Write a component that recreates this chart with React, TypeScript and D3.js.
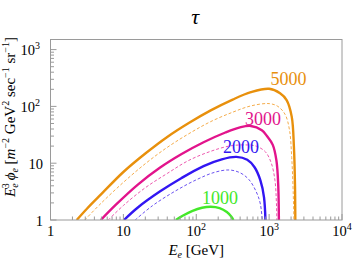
import * as d3 from "d3";
import React from "react";

// [E (GeV), E^3 phi]
const curve5000 = [
  [2.29, 1], [3.16, 1.58], [5.01, 2.88], [10, 7.0], [20, 14.8], [40, 29], [79, 51],
  [158, 85], [316, 132], [562, 178], [1000, 204], [1413, 170], [1738, 129], [2042, 66],
  [2188, 19.5], [2265, 4], [2291, 0.5],
];
const curve5000d = [
  [2.95, 1], [5, 2], [10, 4.6], [20, 9.8], [40, 19], [79, 33], [158, 54], [316, 79],
  [562, 102], [1000, 112], [1318, 100], [1660, 72], [1905, 38], [2042, 12.6], [2138, 3.2],
  [2213, 0.5],
];
const curve3000 = [
  [4.9, 1], [7.9, 1.86], [15.8, 4.2], [31.6, 8.3], [63, 14.5], [126, 23.4], [251, 34.7],
  [398, 42.7], [562, 45.2], [794, 38], [933, 30], [1122, 21], [1259, 11.2], [1334, 4],
  [1365, 0.5],
];
const curve3000d = [
  [6.2, 1], [10, 1.8], [20, 3.7], [40, 6.6], [79, 11.2], [158, 16.2], [282, 20], [447, 21],
  [661, 20], [891, 15.8], [1072, 10], [1202, 5], [1259, 2], [1288, 0.5],
];
const curve2000 = [
  [10.2, 1], [15.8, 1.66], [31.6, 3.16], [63, 5.5], [126, 8.9], [224, 11.7], [355, 12.9],
  [501, 11.5], [631, 8.5], [759, 5], [851, 2.5], [902, 0.5],
];
const curve2000d = [
  [14.5, 1], [25, 1.78], [50, 3.16], [100, 5.1], [178, 6.9], [282, 7.6], [398, 6.8],
  [525, 5.2], [661, 3.2], [759, 1.9], [832, 0.5],
];
const curve1000 = [
  [52.5, 1], [66, 1.2], [89, 1.45], [120, 1.64], [158, 1.71], [209, 1.62], [263, 1.38],
  [302, 1.15], [324, 1],
];

const xTicks = [1, 10, 100, 1000, 10000];
const xTickLabels = [["1", ""], ["10", ""], ["10", "2"], ["10", "3"], ["10", "4"]];
const yTicks = [1, 10, 100, 1000];
const yTickLabels = [["1", ""], ["10", ""], ["10", "2"], ["10", "3"]];

const series = [
  { data: curve5000, color: "#e8900c", dash: false },
  { data: curve5000d, color: "#f4ac4c", dash: true },
  { data: curve3000, color: "#e2148c", dash: false },
  { data: curve3000d, color: "#ec58ae", dash: true },
  { data: curve2000, color: "#3216f2", dash: false },
  { data: curve2000d, color: "#6a52f0", dash: true },
  { data: curve1000, color: "#44e82a", dash: false },
];

const labels = [
  { text: "5000", E: 1840, V: 238, color: "#e8900c" },
  { text: "3000", E: 822, V: 47, color: "#e2148c" },
  { text: "2000", E: 410, V: 15.1, color: "#3216f2" },
  { text: "1000", E: 211, V: 1.91, color: "#44e82a" },
];

const W = 354;
const H = 267;
const left = 50.5;
const right = 342;
const top = 39.5;
const bottom = 220;

const App = () => {
  const x = d3.scaleLog().domain([1, 10000]).range([left, right]);
  const y = d3.scaleLog().domain([1, 1000]).range([bottom, bottom - 3 * 56.8]);

  const line = d3
    .line<number[]>()
    .x((d) => x(d[0]))
    .y((d) => y(d[1]))
    .curve(d3.curveCatmullRom.alpha(0.5));

  const minorX: number[] = [];
  for (let p = 1; p < 10000; p *= 10) for (let k = 2; k < 10; k++) minorX.push(p * k);
  const minorY: number[] = [];
  for (let p = 1; p < 1000; p *= 10) for (let k = 2; k < 10; k++) minorY.push(p * k);

  const font = "Liberation Serif, Times New Roman, serif";

  return (
    <svg width={W} height={H} style={{ position: "absolute", left: 0, top: 0 }} fontFamily={font}>
      <defs>
        <clipPath id="plot">
          <rect x={left} y={top} width={right - left} height={bottom - top} />
        </clipPath>
      </defs>
      <rect width={W} height={H} fill="#fff" />

      <text x={(left + right) / 2 - 1} y={24} fontSize={22} fontStyle="italic" textAnchor="middle">
        τ
      </text>

      <g clipPath="url(#plot)">
        {series.map((s, i) => (
          <path
            key={i}
            d={line(s.data) || ""}
            fill="none"
            stroke={s.color}
            strokeWidth={s.dash ? 1 : 2.4}
            strokeDasharray={s.dash ? "3,2" : undefined}
          />
        ))}
      </g>

      {/* frame */}
      <rect x={left} y={top} width={right - left} height={bottom - top} fill="none" stroke="#9a9a9a" strokeWidth={1} />

      {/* x ticks */}
      {xTicks.map((t) => (
        <line key={"xt" + t} x1={x(t)} x2={x(t)} y1={bottom} y2={bottom - 6} stroke="#9a9a9a" />
      ))}
      {minorX.map((t) => (
        <line key={"xm" + t} x1={x(t)} x2={x(t)} y1={bottom} y2={bottom - 3.5} stroke="#9a9a9a" />
      ))}
      {xTicks.map((t, i) => (
        <text key={"xl" + t} x={x(t)} y={bottom + 16} fontSize={14.5} textAnchor="middle">
          {xTickLabels[i][0]}
          {xTickLabels[i][1] && (
            <tspan dy={-6} fontSize={10}>
              {xTickLabels[i][1]}
            </tspan>
          )}
        </text>
      ))}

      {/* y ticks */}
      {yTicks.map((t) => (
        <line key={"yt" + t} x1={left} x2={left + 6} y1={y(t)} y2={y(t)} stroke="#9a9a9a" />
      ))}
      {minorY.filter((t) => y(t) >= top).map((t) => (
        <line key={"ym" + t} x1={left} x2={left + 3.5} y1={y(t)} y2={y(t)} stroke="#9a9a9a" />
      ))}
      {yTicks.map((t, i) => (
        <text key={"yl" + t} x={yTickLabels[i][1] ? 40 : 43} y={y(t) + 5.5} fontSize={14.5} textAnchor="end">
          {yTickLabels[i][0]}
          {yTickLabels[i][1] && (
            <tspan dy={-6} fontSize={10}>
              {yTickLabels[i][1]}
            </tspan>
          )}
        </text>
      ))}

      {/* curve labels */}
      {labels.map((l) => (
        <text key={l.text} x={x(l.E)} y={y(l.V)} fontSize={18} fill={l.color} textAnchor="middle">
          {l.text}
        </text>
      ))}

      {/* axis titles */}
      <text x={(left + right) / 2} y={255} fontSize={15} textAnchor="middle">
        <tspan fontStyle="italic">E</tspan>
        <tspan fontStyle="italic" fontSize={10} dy={3}>e</tspan>
        <tspan dy={-3}> [GeV]</tspan>
      </text>
      <text transform="translate(15,117) rotate(-90)" fontSize={15} textAnchor="middle">
        <tspan fontStyle="italic">E</tspan>
        <tspan fontStyle="italic" fontSize={10} dy={3}>e</tspan>
        <tspan fontSize={10} dx={-5} dy={-9}>3</tspan>
        <tspan fontStyle="italic" dy={6} dx={3}>ϕ</tspan>
        <tspan fontStyle="italic" fontSize={10} dy={3}>e</tspan>
        <tspan dy={-3}>  [</tspan>
        <tspan fontStyle="italic">m</tspan>
        <tspan fontSize={10} dy={-6}>−2</tspan>
        <tspan dy={6}> GeV</tspan>
        <tspan fontSize={10} dy={-6}>2</tspan>
        <tspan dy={6}> sec</tspan>
        <tspan fontSize={10} dy={-6}>−1</tspan>
        <tspan dy={6}> sr</tspan>
        <tspan fontSize={10} dy={-6}>−1</tspan>
        <tspan dy={6}>]</tspan>
      </text>
    </svg>
  );
};

export default App;
